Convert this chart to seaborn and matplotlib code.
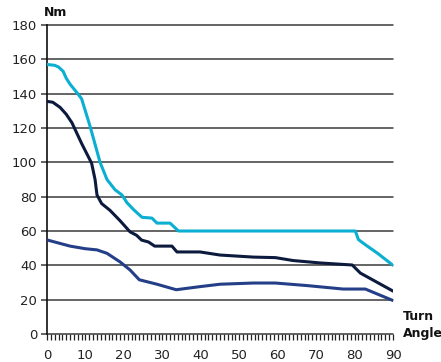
import numpy as np
import pandas as pd
import matplotlib
matplotlib.use('Agg')
import matplotlib.pyplot as plt
import seaborn as sns

# torque curves (angle in degrees, torque in Nm)
cyan_angle = [0, 2, 3, 4.2, 5, 6, 8, 9, 11.2, 13.8, 15.6, 17.7, 19.5, 20.8, 22.5, 24.7, 27.3, 28.6, 32, 34.2,
              80.2, 81, 82.8, 86, 90]
cyan_nm = [157, 156.5, 155.5, 153, 149, 145.5, 140, 137, 121, 100, 90, 84, 81, 76.5, 72.5, 68, 67.5, 64.6, 64.6, 60,
           60, 55, 52, 47, 40]

navy_angle = [0, 1.5, 3.4, 5, 6.5, 9, 11.6, 12.5, 13, 14.2, 16.4, 19, 21.6, 23.3, 24.6, 26.4, 28, 32.5, 33.8,
              39.8, 45, 53.7, 59.4, 64, 71, 79.4, 81.5, 90]
navy_nm = [135.5, 135, 132, 128, 123, 111, 99.5, 90, 81, 76, 72, 66, 59.5, 57.5, 54.7, 53.6, 51.2, 51.2, 47.8,
           47.8, 46, 44.8, 44.5, 42.8, 41.4, 40.2, 35.5, 25]

blue_angle = [0, 6, 9.9, 13, 15.6, 19, 21.6, 24, 28.6, 33.6, 39.8, 45, 53.7, 59.4, 67.7, 77, 82.8, 90]
blue_nm = [54.8, 51.2, 49.7, 49, 47, 42, 37.3, 31.6, 29, 25.8, 27.6, 29, 29.7, 29.7, 28.2, 26.2, 26.2, 19.5]

y_ticks = [0, 20, 40, 60, 80, 100, 120, 140, 160, 180]
x_ticks = [0, 10, 20, 30, 40, 50, 60, 70, 80, 90]

sns.set_style('white')
plt.rcParams['font.family'] = ['DejaVu Sans']

fig = plt.figure(figsize=(4.41, 3.62), dpi=100)
ax = fig.add_axes([0.1066, 0.0773, 0.7846, 0.8537])

for xs, ys, col in [(blue_angle, blue_nm, '#243f88'),
                    (navy_angle, navy_nm, '#0c1a3d'),
                    (cyan_angle, cyan_nm, '#0aafd1')]:
    sns.lineplot(x=xs, y=ys, color=col, linewidth=2.2, sort=False, ax=ax, zorder=3)

ax.set_xlim(0, 90)
ax.set_ylim(0, 180)
ax.set_yticks(y_ticks)
ax.set_xticks(x_ticks)
ax.set_xticks(np.arange(0, 91, 1), minor=True)

for y in y_ticks:
    ax.axhline(y, color='#3a3a3a', linewidth=1.1, zorder=1, clip_on=False)

for side in ['top', 'right', 'bottom']:
    ax.spines[side].set_visible(False)
ax.spines['left'].set_color('#111111')
ax.spines['left'].set_linewidth(1.2)

ax.tick_params(axis='y', which='major', length=4, width=1.1, color='#3a3a3a', pad=3,
               labelsize=9.5, labelcolor='#222222', left=True)
ax.tick_params(axis='x', which='both', length=4.5, width=0.9, color='#222222', pad=6,
               labelsize=9.5, labelcolor='#222222', bottom=True, direction='out')
ax.set_xlabel('')
ax.set_ylabel('')

fig.text(44 / 441, 1 - 13 / 362, 'Nm', fontsize=9, fontweight='bold', color='#111111', va='center', ha='left')
fig.text(403 / 441, 1 - 316 / 362, 'Turn', fontsize=9, fontweight='bold', color='#111111', va='center', ha='left')
fig.text(403 / 441, 1 - 334 / 362, 'Angle', fontsize=9, fontweight='bold', color='#111111', va='center', ha='left')

fig.savefig('out.png', dpi=100)
